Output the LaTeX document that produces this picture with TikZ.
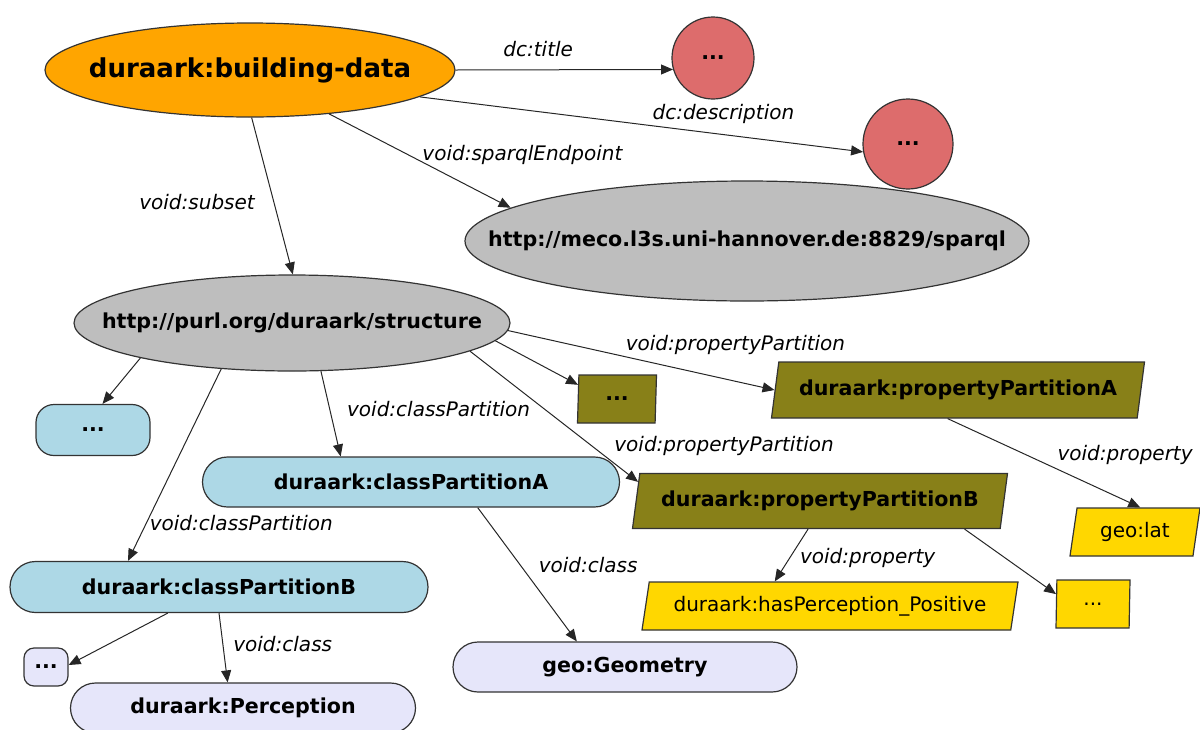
\documentclass[tikz,border=0pt]{standalone}
\usepackage{fontspec}
\setmainfont{DejaVu Sans}
\usetikzlibrary{shapes.geometric,shapes.misc,arrows.meta}
\definecolor{dsorange}{RGB}{255,165,0}
\definecolor{dotred}{RGB}{221,108,108}
\definecolor{partolive}{RGB}{136,128,24}
\definecolor{urigray}{RGB}{190,190,190}
\definecolor{clsblue}{RGB}{173,216,230}
\definecolor{clslav}{RGB}{230,230,250}
\definecolor{propgold}{RGB}{255,215,0}
\begin{document}
\begin{tikzpicture}[x=0.5pt,y=-0.5pt,
  base/.style={draw=black!80,line width=0.6pt,inner sep=0pt},
  bold/.style={font=\bfseries\fontsize{10.3}{12}\selectfont},
  oval/.style={base,ellipse,inner xsep=-50pt},
  dsnode/.style={oval,fill=dsorange,font=\bfseries\fontsize{13}{15}\selectfont},
  lit/.style={base,bold,circle,fill=dotred},
  uri/.style={oval,bold,fill=urigray},
  cls/.style={base,bold,rounded rectangle,fill=clsblue},
  clsbox/.style={base,bold,rectangle,rounded corners=9pt,fill=clsblue},
  cnode/.style={base,bold,rounded rectangle,fill=clslav},
  cbox/.style={base,bold,rectangle,rounded corners=5pt,fill=clslav},
  para/.style={base,trapezium,trapezium left angle=70,trapezium right angle=110,
    trapezium stretches body},
  ppart/.style={para,bold,fill=partolive},
  prop/.style={para,fill=propgold,font=\fontsize{10}{12}\selectfont},
  lbl/.style={inner sep=0pt,font=\itshape\fontsize{10}{12}\selectfont},
  rel/.style={draw=black!85,line width=0.5pt,-{Triangle[length=6pt,width=5pt]}}]
  \useasboundingbox (0,0) rectangle (1200,729);

  \node[dsnode,minimum width=205pt,minimum height=47pt] (bd) at (250,70) {duraark:building-data};
  \node[lit,minimum size=41pt] (tt) at (713,58) {...};
  \node[lit,minimum size=45pt] (ds) at (908,144) {...};
  \node[uri,minimum width=282pt,minimum height=60pt] (sp) at (747,241) {http://meco.l3s.uni-hannover.de:8829/sparql};
  \node[uri,minimum width=218pt,minimum height=48pt] (st) at (292,323) {http://purl.org/duraark/structure};

  \node[clsbox,minimum width=57pt,minimum height=25.5pt] (da) at (93,430) {...};
  \node[cls,minimum width=208.5pt,minimum height=25pt] (ca) at (411,482) {duraark:classPartitionA};
  \node[cls,minimum width=209pt,minimum height=25.5pt] (cb) at (219,587) {duraark:classPartitionB};
  \node[cbox,minimum width=22pt,minimum height=19pt] (db) at (46,667) {...};
  \node[cnode,minimum width=172.5pt,minimum height=25pt] (pc) at (243,708) {duraark:Perception};
  \node[cnode,minimum width=172pt,minimum height=25pt] (gm) at (625,667) {geo:Geometry};

  \node[ppart,minimum width=39.5pt,minimum height=24pt] (dc) at (617,399) {...};
  \node[ppart,minimum width=186.5pt,minimum height=28pt] (pa) at (958,390) {duraark:propertyPartitionA};
  \node[ppart,minimum width=187.5pt,minimum height=27.5pt] (pb) at (820,501) {duraark:propertyPartitionB};
  \node[prop,minimum width=65pt,minimum height=24pt] (la) at (1135,532) {geo:lat};
  \node[prop,minimum width=188pt,minimum height=24pt] (hp) at (830,606) {duraark:hasPerception\_Positive};
  \node[prop,minimum width=37pt,minimum height=24pt] (dd) at (1093,604) {...};

  % dataset
  \draw[rel] (bd.east) -- node[lbl,pos=.38,above=6.5pt] {dc:title} (tt.196);
  \draw[rel] (bd.-9) -- node[lbl,pos=.685,above=5pt] {dc:description} (ds.190);
  \draw[rel] (bd.-29) -- node[lbl,pos=.5,anchor=south west,xshift=1pt,yshift=-2pt] {void:sparqlEndpoint} (sp.172);
  \draw[rel] (bd.-88) -- node[lbl,pos=.5,anchor=east,xshift=-8.5pt,yshift=-3pt] {void:subset} (st.89);

  % partitions
  \draw[rel] (st.193) -- (da.70);
  \draw[rel] (st.-59) -- node[lbl,pos=.44,anchor=west,xshift=8.5pt] {void:classPartition} (ca.160);
  \draw[rel] (st.-147) -- node[lbl,pos=.805,anchor=west,xshift=1.6pt] {void:classPartition} (cb.164);
  \draw[rel] (st.-5) -- (dc.160);
  \draw[rel] (st.-2) -- node[lbl,pos=.44,anchor=south west,yshift=1pt] {void:propertyPartition} (pa.west);
  \draw[rel] (st.-9.5) -- node[lbl,pos=.856,anchor=south west,yshift=3.5pt] {void:propertyPartition} (pb.174);

  % classes and properties
  \draw[rel] (ca.-21) -- node[lbl,pos=.43,anchor=west,xshift=9pt] {void:class} (gm.152);
  \draw[rel] (cb.-153) -- (db.5);
  \draw[rel] (cb.south) -- node[lbl,pos=.447,anchor=west,xshift=5pt] {void:class} (pc.121);
  \draw[rel] (pa.-110) -- node[lbl,pos=.568,anchor=south west,yshift=2pt] {void:property} (la.78);
  \draw[rel] (pb.-113) -- node[lbl,pos=.51,anchor=west,xshift=4.25pt,yshift=-1pt] {void:property} (hp.156);
  \draw[rel] (pb.-11.5) -- (dd.165);
\end{tikzpicture}
\end{document}
